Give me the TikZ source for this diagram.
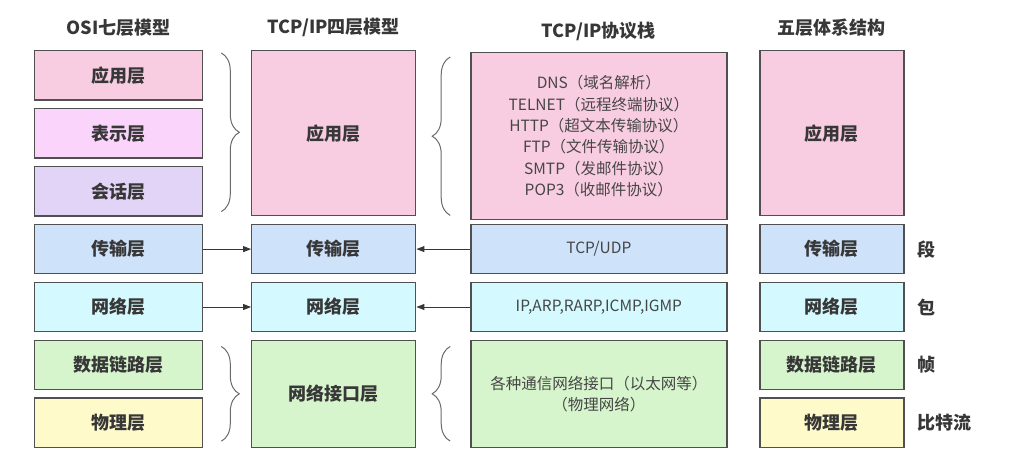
\documentclass[tikz,border=0pt]{standalone}
\usepackage{fontspec}
\setmainfont{Noto Sans CJK SC}
\usetikzlibrary{arrows.meta, positioning, decorations.pathreplacing}

\definecolor{boxline}{RGB}{80,80,80}
\definecolor{labeltext}{RGB}{55,55,55}
\definecolor{prototext}{RGB}{70,70,70}
\definecolor{appfill}{RGB}{249,205,225}
\definecolor{presfill}{RGB}{250,212,250}
\definecolor{sessfill}{RGB}{226,212,246}
\definecolor{transfill}{RGB}{206,226,250}
\definecolor{netfill}{RGB}{212,250,255}
\definecolor{linkfill}{RGB}{214,245,204}
\definecolor{physfill}{RGB}{255,250,202}

\begin{document}
\begin{tikzpicture}[x=1pt, y=-1pt,
    layer/.style={rectangle, draw=boxline, line width=1.3pt, align=center,
      inner sep=0pt, minimum height=49.5pt, text=labeltext,
      font=\bfseries\fontsize{18}{21}\selectfont},
    protolayer/.style={layer, text=prototext, font=\fontsize{15.5}{21.3}\selectfont},
    osibox/.style={layer, minimum width=168pt},
    tcpbox/.style={layer, minimum width=164pt},
    stackbox/.style={protolayer, minimum width=256pt},
    fivebox/.style={layer, minimum width=144pt},
    title/.style={font=\bfseries\fontsize{18}{21}\selectfont, text=labeltext, inner sep=0pt},
    unit/.style={font=\bfseries\fontsize{18}{21}\selectfont, text=labeltext, inner sep=0pt},
    arr/.style={-{Triangle[length=8pt, width=6pt]}, line width=1pt, labeltext},
    brc/.style={decorate, decoration={brace, amplitude=18pt}, line width=1pt, boxline!85}
  ]
    \useasboundingbox (0,0) rectangle (1030,462);

    % OSI seven layers
    \node[osibox, fill=appfill, anchor=north west] (osiapp) at (34,50) {应用层};
    \node[osibox, fill=presfill, below=7.1pt of osiapp] (osipres) {表示层};
    \node[osibox, fill=sessfill, below=7.1pt of osipres] (osisess) {会话层};
    \node[osibox, fill=transfill, below=7.1pt of osisess] (ositrans) {传输层};
    \node[osibox, fill=netfill, below=7.1pt of ositrans] (osinet) {网络层};
    \node[osibox, fill=linkfill, below=7.1pt of osinet] (osilink) {数据链路层};
    \node[osibox, fill=physfill, below=7.1pt of osilink] (osiphys) {物理层};

    % TCP/IP four layers
    \node[tcpbox, fill=transfill, right=47.8pt of ositrans] (tcptrans) {传输层};
    \node[tcpbox, fill=netfill, right=47.8pt of osinet] (tcpnet) {网络层};
    \node[tcpbox, fill=appfill, minimum height=165.1pt, anchor=north west]
      (tcpapp) at (tcptrans.west |- osiapp.north) {应用层};
    \node[tcpbox, fill=linkfill, minimum height=107.3pt, anchor=north west]
      (tcpif) at (tcpnet.west |- osilink.north) {网络接口层};

    % protocol stack
    \node[stackbox, fill=transfill, right=53.8pt of tcptrans] (stktrans) {TCP/UDP};
    \node[stackbox, fill=netfill, right=53.8pt of tcpnet] (stknet) {IP,ARP,RARP,ICMP,IGMP};
    \node[stackbox, fill=appfill, minimum height=167.1pt, anchor=north west]
      (stkapp) at ([yshift=-2pt]stktrans.west |- osiapp.north)
      {DNS（域名解析）\\TELNET（远程终端协议）\\HTTP（超文本传输协议）\\
       FTP（文件传输协议）\\SMTP（发邮件协议）\\POP3（收邮件协议）};
    \node[stackbox, fill=linkfill, minimum height=107.3pt, anchor=north west]
      (stkif) at (stknet.west |- osilink.north)
      {各种通信网络接口（以太网等）\\（物理网络）};

    % five layers
    \node[fivebox, fill=transfill, right=31.8pt of stktrans] (fivetrans) {传输层};
    \node[fivebox, fill=netfill, right=31.8pt of stknet] (fivenet) {网络层};
    \node[fivebox, fill=linkfill, anchor=north west] (fivelink)
      at (fivenet.west |- osilink.north) {数据链路层};
    \node[fivebox, fill=physfill, anchor=north west] (fivephys)
      at (fivenet.west |- osiphys.north) {物理层};
    \node[fivebox, fill=appfill, minimum height=165.1pt, anchor=north west]
      (fiveapp) at (fivetrans.west |- osiapp.north) {应用层};

    % data units
    \node[unit, right=12.4pt of fivetrans] (segunit) {段};
    \node[unit, right=12.4pt of fivenet] (pktunit) {包};
    \node[unit, right=12.4pt of fivelink] (frmunit) {帧};
    \node[unit, right=12.4pt of fivephys] (bitunit) {比特流};

    % titles
    \node[title, above=13pt of osiapp] (osititle) {OSI七层模型};
    \node[title, above=13pt of tcpapp] (tcptitle) {TCP/IP四层模型};
    \node[title, above=11pt of stkapp.north -| stktrans] (stktitle) {TCP/IP协议栈};
    \node[title, above=13pt of fiveapp] (fivetitle) {五层体系结构};

    % arrows
    \draw[arr] (ositrans) -- (tcptrans);
    \draw[arr] (osinet) -- (tcpnet);
    \draw[arr] (stktrans) -- (tcptrans);
    \draw[arr] (stknet) -- (tcpnet);

    % braces
    \draw[brc] ([xshift=18pt,yshift=-3pt]osiapp.north east) -- ([xshift=18pt,yshift=5pt]osisess.south east);
    \draw[brc] ([xshift=-20pt,yshift=5pt]stkapp.south west) -- ([xshift=-20pt,yshift=-5pt]stkapp.north west);
    \draw[brc] ([xshift=18pt,yshift=-7pt]osilink.north east) -- ([xshift=18pt,yshift=7pt]osiphys.south east);
    \draw[brc] ([xshift=-20pt,yshift=7pt]stkif.south west) -- ([xshift=-20pt,yshift=-7pt]stkif.north west);
  \end{tikzpicture}
\end{document}
